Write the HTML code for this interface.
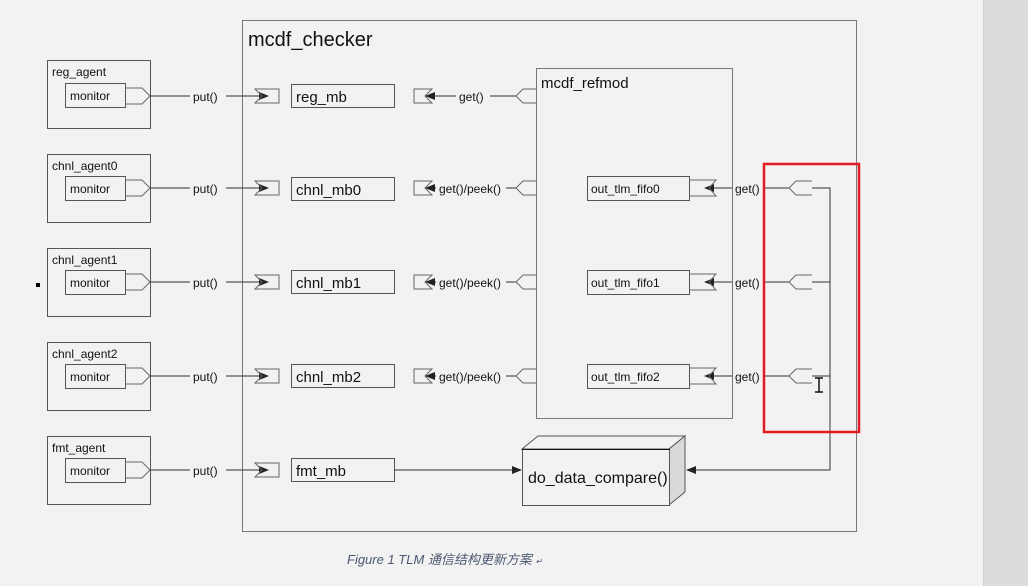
<!DOCTYPE html>
<html><head><meta charset="utf-8"><style>
html,body{margin:0;padding:0;background:#f2f2f2;}
svg{display:block;font-family:"Liberation Sans","Noto Sans CJK SC",sans-serif;}
</style></head><body>
<svg width="1028" height="586" viewBox="0 0 1028 586" xmlns="http://www.w3.org/2000/svg">
<defs><marker id="a" markerWidth="10" markerHeight="8" refX="9" refY="4" orient="auto" markerUnits="userSpaceOnUse"><path d="M0,0 L10,4 L0,8z" fill="#222"/></marker></defs>
<rect width="1028" height="586" fill="#f2f2f2"/>
<rect x="983" y="0" width="45" height="586" fill="#dcdcdc"/>
<line x1="983.5" y1="0" x2="983.5" y2="586" stroke="#cfcfcf"/>
<rect x="36" y="283" width="4" height="4" fill="#000"/>
<g fill="none" stroke="#777" stroke-width="1">
<rect x="242.5" y="20.5" width="614" height="511"/>
<rect x="536.5" y="68.5" width="196" height="350"/>
</g>
<text x="248" y="46" font-size="20" fill="#111">mcdf_checker</text>
<text x="541" y="88" font-size="15" fill="#111">mcdf_refmod</text>
<g font-size="12" fill="#111" stroke-width="1">
<!-- rows -->
<g id="rows">
</g>
</g>
<g stroke="#555" fill="#f2f2f2" font-size="12">
<!-- row generator manual -->
<!-- row 0 y=96 -->
<rect x="47.5" y="60.5" width="103" height="68"/><rect x="65.5" y="83.5" width="60" height="24"/>
<rect x="47.5" y="154.5" width="103" height="68"/><rect x="65.5" y="176.5" width="60" height="24"/>
<rect x="47.5" y="248.5" width="103" height="68"/><rect x="65.5" y="270.5" width="60" height="24"/>
<rect x="47.5" y="342.5" width="103" height="68"/><rect x="65.5" y="364.5" width="60" height="24"/>
<rect x="47.5" y="436.5" width="103" height="68"/><rect x="65.5" y="458.5" width="60" height="24"/>
<rect x="291.5" y="84.5" width="103" height="23"/>
<rect x="291.5" y="177.5" width="103" height="23"/>
<rect x="291.5" y="270.5" width="103" height="23"/>
<rect x="291.5" y="364.5" width="103" height="23"/>
<rect x="291.5" y="458.5" width="103" height="23"/>
<rect x="587.5" y="176.5" width="102" height="24"/>
<rect x="587.5" y="270.5" width="102" height="24"/>
<rect x="587.5" y="364.5" width="102" height="24"/>
</g>
<g fill="#111" font-size="12">
<text x="52" y="76">reg_agent</text><text x="52" y="170">chnl_agent0</text><text x="52" y="264">chnl_agent1</text><text x="52" y="358">chnl_agent2</text><text x="52" y="452">fmt_agent</text>
<text x="70" y="100">monitor</text><text x="70" y="193">monitor</text><text x="70" y="287">monitor</text><text x="70" y="381">monitor</text><text x="70" y="475">monitor</text>
<text x="193" y="101">put()</text><text x="193" y="193">put()</text><text x="193" y="287">put()</text><text x="193" y="381">put()</text><text x="193" y="475">put()</text>
<text x="459" y="101">get()</text>
<text x="439" y="193">get()/peek()</text><text x="439" y="287">get()/peek()</text><text x="439" y="381">get()/peek()</text>
<text x="735" y="193">get()</text><text x="735" y="287">get()</text><text x="735" y="381">get()</text>
<text x="591" y="193">out_tlm_fifo0</text><text x="591" y="287">out_tlm_fifo1</text><text x="591" y="381">out_tlm_fifo2</text>
</g>
<g fill="#111" font-size="15">
<text x="296" y="102">reg_mb</text><text x="296" y="195">chnl_mb0</text><text x="296" y="288">chnl_mb1</text><text x="296" y="382">chnl_mb2</text><text x="296" y="476">fmt_mb</text>
</g>
<g stroke="#333" fill="none">
<!-- put lines -->
<path d="M150,96H190M226,96H268" marker-end="url(#a)"/>
<path d="M150,188H190M226,188H268" marker-end="url(#a)"/>
<path d="M150,282H190M226,282H268" marker-end="url(#a)"/>
<path d="M150,376H190M226,376H268" marker-end="url(#a)"/>
<path d="M150,470H190M226,470H268" marker-end="url(#a)"/>
<path d="M516,96H490M456,96H426" marker-end="url(#a)"/>
<path d="M516,188H506M436,188H426" marker-end="url(#a)"/>
<path d="M516,282H506M436,282H426" marker-end="url(#a)"/>
<path d="M516,376H506M436,376H426" marker-end="url(#a)"/>
<path d="M789,188H764M732,188H705" marker-end="url(#a)"/>
<path d="M789,282H764M732,282H705" marker-end="url(#a)"/>
<path d="M789,376H764M732,376H705" marker-end="url(#a)"/>
<path d="M812,188H830V470H687" marker-end="url(#a)"/>
<path d="M812,282H830M812,376H830"/>
<path d="M394,470H521" marker-end="url(#a)"/>
</g>
<g stroke="#666" fill="none">
<!-- monitor out ports -->
<path d="M125,88H142L150,96L142,104H125"/><path d="M125,180H142L150,188L142,196H125"/><path d="M125,274H142L150,282L142,290H125"/><path d="M125,368H142L150,376L142,384H125"/><path d="M125,462H142L150,470L142,478H125"/>
<!-- put receive ports -->
<path d="M255,89H279V103H255L262,96Z"/><path d="M255,181H279V195H255L262,188Z"/><path d="M255,275H279V289H255L262,282Z"/><path d="M255,369H279V383H255L262,376Z"/><path d="M255,463H279V477H255L262,470Z"/>
<!-- get receive ports left -->
<path d="M414,89H432L425,96L432,103H414Z"/><path d="M414,181H432L425,188L432,195H414Z"/><path d="M414,275H432L425,282L432,289H414Z"/><path d="M414,369H432L425,376L432,383H414Z"/>
<!-- refmod left ports -->
<path d="M536,89H523L516,96L523,103H536"/><path d="M536,181H523L516,188L523,195H536"/><path d="M536,275H523L516,282L523,289H536"/><path d="M536,369H523L516,376L523,383H536"/>
<!-- fifo ports -->
<path d="M689,180H716L709,188L716,196H689"/><path d="M689,274H716L709,282L716,290H689"/><path d="M689,368H716L709,376L716,384H689"/>
<!-- right ports -->
<path d="M812,181H796L789,188L796,195H812"/><path d="M812,275H796L789,282L796,289H812"/><path d="M812,369H796L789,376L796,383H812"/>
</g>
<!-- 3D box -->
<g stroke="#555">
<path d="M522,449L538,436H685L669,449Z" fill="#f2f2f2"/>
<path d="M669,449L685,436V492L669,505Z" fill="#d9d9d9"/>
<rect x="522.5" y="449.5" width="147" height="56" fill="#f2f2f2"/>
</g>
<line x1="522" y1="449.5" x2="670" y2="449.5" stroke="#111"/>
<text x="528" y="483" font-size="16" fill="#111">do_data_compare()</text>
<rect x="764" y="164" width="95" height="268" fill="none" stroke="#e01b24" stroke-width="2.5"/>
<path d="M815,378H823M819,378V392M815,392H823" stroke="#111" stroke-width="1.5"/>
<text x="347" y="564" font-size="13" font-style="italic" fill="#4a5870">Figure 1 TLM 通信结构更新方案 <tspan font-size="8">↵</tspan></text>
</svg>
</body></html>
